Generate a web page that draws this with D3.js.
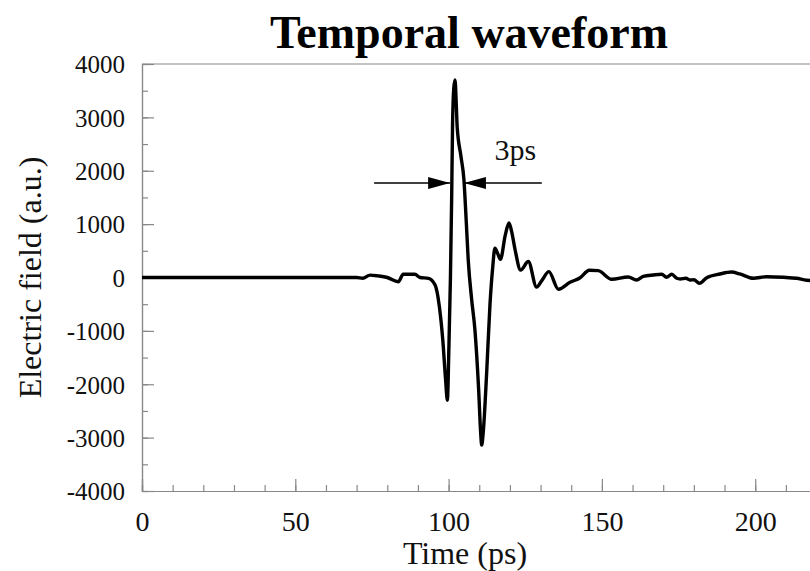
<!DOCTYPE html>
<html>
<head>
<meta charset="utf-8">
<title>Temporal waveform</title>
<script src="https://d3js.org/d3.v7.min.js"></script>
<style>
  body { margin: 0; background: #fff; }
  svg { display: block; font-family: 'Liberation Serif', 'Times New Roman', serif; }
  .axis path, .axis line { stroke: #888; stroke-width: 1.2px; }
  .axis text { fill: #111; font-family: 'Liberation Serif', 'Times New Roman', serif; }
  .y.axis text { font-size: 25px; }
  .x.axis text { font-size: 28px; }
</style>
</head>
<body>
<script>
// time (ps) and field (a.u.)
var times = [0, 20, 40, 60, 70, 72, 74.4, 77, 80, 83.6, 85.2, 89, 90.7, 93.4, 95.6, 97, 98.1, 99, 99.6,
  100.1, 100.6, 101.0, 101.3, 101.7, 102.1, 102.5, 102.8, 104, 105, 105.8, 106.4, 107.5, 108.6, 109.8,
  110.5, 110.8, 111.3, 112.4, 113.5, 114.4, 115.1, 116.0, 116.9, 118.5, 119.7, 120.6, 121.7, 123.5,
  126, 128.7, 130.5, 132.7, 135.8, 139.6, 142.9, 145.9, 148.8, 153.2, 158.6, 161.3, 163.5, 166.8,
  169.5, 171.1, 172.8, 174.4, 175.5, 177.4, 178.7, 180, 181.8, 184.2, 188.5, 192.3, 195, 199.4,
  203.7, 209.2, 213.5, 216.8, 220];
var field = [0, 0, 0, 0, 0, -15, 45, 30, 0, -80, 60, 60, 0, -15, -140, -550, -1170, -1900, -2300,
  -1300, 0, 1500, 2900, 3550, 3700, 3250, 2820, 2280, 1830, 1000, 330, -400, -990, -2100,
  -2950, -3140, -2900, -1800, -500, 200, 550, 450, 340, 800, 1020, 850, 515, 140,
  300, -180, -50, 110, -220, -90, -4, 135, 128, -34, 9, -47, 22, 47,
  60, 4, 60, -15, -28, -15, -47, -41, -109, -4, 66, 103, 66, -15,
  15, 4, -15, -52, -60];

var xMajor = [0, 50, 100, 150, 200];
var xMinor = d3.range(0, 230, 10);
var yMajor = [-4000, -3000, -2000, -1000, 0, 1000, 2000, 3000, 4000];
var yMinor = d3.range(-4000, 4001, 500);

// "3ps" pulse width marker
var markLeft = [75.7, 100.5];
var markRight = [105, 130.4];
var markLevel = 1770;

var width = 810, height = 571;
var margin = {left: 142, top: 64, bottom: 80};

var x = d3.scaleLinear().domain([0, 220]).range([margin.left, margin.left + 220 * 3.066]);
var y = d3.scaleLinear().domain([-4000, 4000]).range([height - margin.bottom, margin.top]);

var svg = d3.select("body").append("svg")
    .attr("width", width)
    .attr("height", height);

// frame top line
svg.append("line")
    .attr("x1", x(0)).attr("x2", width)
    .attr("y1", y(4000)).attr("y2", y(4000))
    .attr("stroke", "#888").attr("stroke-width", 1.2);

// minor ticks
svg.append("g").attr("class", "axis")
    .attr("transform", "translate(" + x(0) + ",0)")
    .call(d3.axisLeft(y).tickValues(yMinor).tickSize(-6).tickFormat(""));
svg.append("g").attr("class", "axis")
    .attr("transform", "translate(0," + y(-4000) + ")")
    .call(d3.axisBottom(x).tickValues(xMinor).tickSize(-6).tickFormat(""));

// major ticks + labels (plain hyphen for negatives, like the original)
var yAxis = svg.append("g").attr("class", "y axis")
    .attr("transform", "translate(" + x(0) + ",0)")
    .call(d3.axisLeft(y).tickValues(yMajor).tickSize(-12).tickPadding(17)
      .tickFormat(function(d) { return String(d); }));
yAxis.selectAll("text").attr("dy", "0.35em");

var xAxis = svg.append("g").attr("class", "x axis")
    .attr("transform", "translate(0," + y(-4000) + ")")
    .call(d3.axisBottom(x).tickValues(xMajor).tickSize(-12).tickPadding(0));
xAxis.selectAll("text").attr("y", 40).attr("dy", null);

svg.selectAll(".axis .domain").attr("stroke", "#888");

// waveform
var line = d3.line()
    .x(function(d, i) { return x(times[i]); })
    .y(function(d) { return y(d); })
    .curve(d3.curveMonotoneX);

svg.append("path")
    .datum(field)
    .attr("fill", "none")
    .attr("stroke", "#000")
    .attr("stroke-width", 3.4)
    .attr("stroke-linejoin", "round")
    .attr("d", line);

// width annotation
var defs = svg.append("defs");
defs.append("marker")
    .attr("id", "head")
    .attr("viewBox", "0 0 22 12")
    .attr("refX", 22).attr("refY", 6)
    .attr("markerWidth", 22).attr("markerHeight", 12)
    .attr("markerUnits", "userSpaceOnUse")
    .attr("orient", "auto")
  .append("path")
    .attr("d", "M0,0L22,6L0,12Z")
    .attr("fill", "#000");

svg.append("line")
    .attr("x1", x(markLeft[0])).attr("x2", x(markLeft[1]))
    .attr("y1", y(markLevel)).attr("y2", y(markLevel))
    .attr("stroke", "#000").attr("stroke-width", 1.6)
    .attr("marker-end", "url(#head)");
svg.append("line")
    .attr("x1", x(markRight[1])).attr("x2", x(markRight[0]))
    .attr("y1", y(markLevel)).attr("y2", y(markLevel))
    .attr("stroke", "#000").attr("stroke-width", 1.6)
    .attr("marker-end", "url(#head)");

svg.append("text")
    .attr("x", x(115))
    .attr("y", y(2200))
    .attr("font-size", 30)
    .attr("fill", "#111")
    .text("3ps");

// title and axis titles
svg.append("text")
    .attr("x", 469).attr("y", 48)
    .attr("text-anchor", "middle")
    .attr("font-size", 46)
    .attr("font-weight", "bold")
    .attr("fill", "#000")
    .text("Temporal waveform");

svg.append("text")
    .attr("x", 465).attr("y", 564)
    .attr("text-anchor", "middle")
    .attr("font-size", 32)
    .attr("fill", "#111")
    .text("Time (ps)");

svg.append("text")
    .attr("transform", "translate(41," + y(0) + ") rotate(-90)")
    .attr("text-anchor", "middle")
    .attr("font-size", 32)
    .attr("fill", "#111")
    .text("Electric field (a.u.)");
</script>
</body>
</html>
